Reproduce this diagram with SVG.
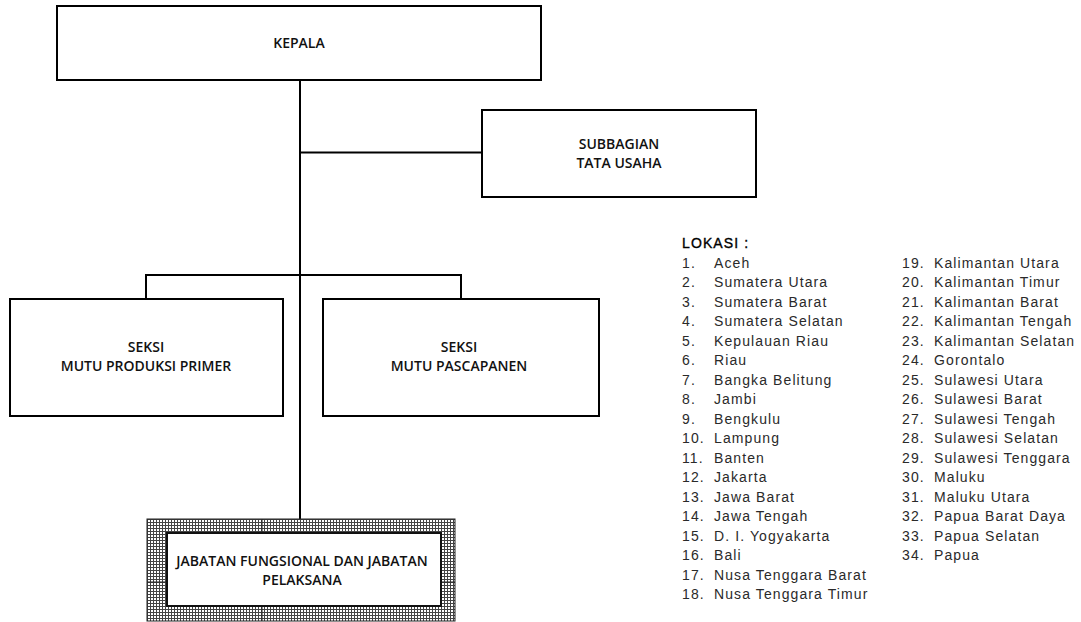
<svg xmlns="http://www.w3.org/2000/svg" width="1081" height="622" viewBox="0 0 1081 622">
<style>
.box{fill:#fff;stroke:#000;stroke-width:2}
.con{fill:none;stroke:#000;stroke-width:2}
.bt{font-family:"Open Sans","Liberation Sans",sans-serif;font-weight:600;font-size:14px;fill:#111;text-anchor:middle}
.lg{font-family:"Liberation Sans",Arial,sans-serif;font-size:14px;fill:#2a2a2a;letter-spacing:1.1px}
.hd{fill:#000;stroke:#000;stroke-width:0.35px}
.seam{stroke:#222;stroke-width:1}
</style>
<defs>
<pattern id="grid" width="3" height="3" patternUnits="userSpaceOnUse">
<rect width="3" height="3" fill="#fff"/>
<path d="M0 0.5H3M0.5 0V3" stroke="#444" stroke-width="1"/>
</pattern>
</defs>
<rect width="1081" height="622" fill="#fff"/>
<g id="connectors">
<line class="con" x1="300" y1="80" x2="300" y2="519"/>
<line class="con" x1="300" y1="152.5" x2="482" y2="152.5"/>
<polyline class="con" points="146,299 146,275 461,275 461,299"/>
</g>
<g id="kepala">
<rect class="box" x="57" y="6" width="484" height="74"/>
<text class="bt" x="299" y="48" font-weight="700">KEPALA</text>
</g>
<g id="subbagian">
<rect class="box" x="482" y="110" width="274" height="87"/>
<text class="bt" x="619" y="149">SUBBAGIAN</text>
<text class="bt" x="619" y="168">TATA USAHA</text>
</g>
<g id="seksi-primer">
<rect class="box" x="10" y="299" width="273" height="117"/>
<text class="bt" x="146" y="352">SEKSI</text>
<text class="bt" x="146" y="371">MUTU PRODUKSI PRIMER</text>
</g>
<g id="seksi-pascapanen">
<rect class="box" x="323" y="299" width="276" height="117"/>
<text class="bt" x="459" y="352">SEKSI</text>
<text class="bt" x="459" y="371">MUTU PASCAPANEN</text>
</g>
<g id="jabatan">
<rect x="147" y="519" width="308" height="102" fill="url(#grid)" stroke="#222" stroke-width="1"/>
<line class="seam" x1="262" y1="519" x2="262" y2="533"/>
<line class="seam" x1="262" y1="606" x2="262" y2="621"/>
<line class="seam" x1="147" y1="582" x2="167" y2="582"/>
<line class="seam" x1="441" y1="582" x2="455" y2="582"/>
<rect x="167" y="533" width="274" height="73" fill="#fff" stroke="#111" stroke-width="2"/>
<text class="bt" x="302" y="566">JABATAN FUNGSIONAL DAN JABATAN</text>
<text class="bt" x="302" y="585">PELAKSANA</text>
</g>
<g id="lokasi">
<text class="lg hd" x="682" y="248">LOKASI :</text>
<g>
<text class="lg" x="682" y="267.5">1.</text><text class="lg" x="714" y="267.5">Aceh</text>
<text class="lg" x="682" y="287">2.</text><text class="lg" x="714" y="287">Sumatera Utara</text>
<text class="lg" x="682" y="306.5">3.</text><text class="lg" x="714" y="306.5">Sumatera Barat</text>
<text class="lg" x="682" y="326">4.</text><text class="lg" x="714" y="326">Sumatera Selatan</text>
<text class="lg" x="682" y="345.5">5.</text><text class="lg" x="714" y="345.5">Kepulauan Riau</text>
<text class="lg" x="682" y="365">6.</text><text class="lg" x="714" y="365">Riau</text>
<text class="lg" x="682" y="384.5">7.</text><text class="lg" x="714" y="384.5">Bangka Belitung</text>
<text class="lg" x="682" y="404">8.</text><text class="lg" x="714" y="404">Jambi</text>
<text class="lg" x="682" y="423.5">9.</text><text class="lg" x="714" y="423.5">Bengkulu</text>
<text class="lg" x="682" y="443">10.</text><text class="lg" x="714" y="443">Lampung</text>
<text class="lg" x="682" y="462.5">11.</text><text class="lg" x="714" y="462.5">Banten</text>
<text class="lg" x="682" y="482">12.</text><text class="lg" x="714" y="482">Jakarta</text>
<text class="lg" x="682" y="501.5">13.</text><text class="lg" x="714" y="501.5">Jawa Barat</text>
<text class="lg" x="682" y="521">14.</text><text class="lg" x="714" y="521">Jawa Tengah</text>
<text class="lg" x="682" y="540.5">15.</text><text class="lg" x="714" y="540.5">D. I. Yogyakarta</text>
<text class="lg" x="682" y="560">16.</text><text class="lg" x="714" y="560">Bali</text>
<text class="lg" x="682" y="579.5">17.</text><text class="lg" x="714" y="579.5">Nusa Tenggara Barat</text>
<text class="lg" x="682" y="599">18.</text><text class="lg" x="714" y="599">Nusa Tenggara Timur</text>
</g>
<g>
<text class="lg" x="902" y="267.5">19.</text><text class="lg" x="934" y="267.5">Kalimantan Utara</text>
<text class="lg" x="902" y="287">20.</text><text class="lg" x="934" y="287">Kalimantan Timur</text>
<text class="lg" x="902" y="306.5">21.</text><text class="lg" x="934" y="306.5">Kalimantan Barat</text>
<text class="lg" x="902" y="326">22.</text><text class="lg" x="934" y="326">Kalimantan Tengah</text>
<text class="lg" x="902" y="345.5">23.</text><text class="lg" x="934" y="345.5">Kalimantan Selatan</text>
<text class="lg" x="902" y="365">24.</text><text class="lg" x="934" y="365">Gorontalo</text>
<text class="lg" x="902" y="384.5">25.</text><text class="lg" x="934" y="384.5">Sulawesi Utara</text>
<text class="lg" x="902" y="404">26.</text><text class="lg" x="934" y="404">Sulawesi Barat</text>
<text class="lg" x="902" y="423.5">27.</text><text class="lg" x="934" y="423.5">Sulawesi Tengah</text>
<text class="lg" x="902" y="443">28.</text><text class="lg" x="934" y="443">Sulawesi Selatan</text>
<text class="lg" x="902" y="462.5">29.</text><text class="lg" x="934" y="462.5">Sulawesi Tenggara</text>
<text class="lg" x="902" y="482">30.</text><text class="lg" x="934" y="482">Maluku</text>
<text class="lg" x="902" y="501.5">31.</text><text class="lg" x="934" y="501.5">Maluku Utara</text>
<text class="lg" x="902" y="521">32.</text><text class="lg" x="934" y="521">Papua Barat Daya</text>
<text class="lg" x="902" y="540.5">33.</text><text class="lg" x="934" y="540.5">Papua Selatan</text>
<text class="lg" x="902" y="560">34.</text><text class="lg" x="934" y="560">Papua</text>
</g>
</g>
</svg>
